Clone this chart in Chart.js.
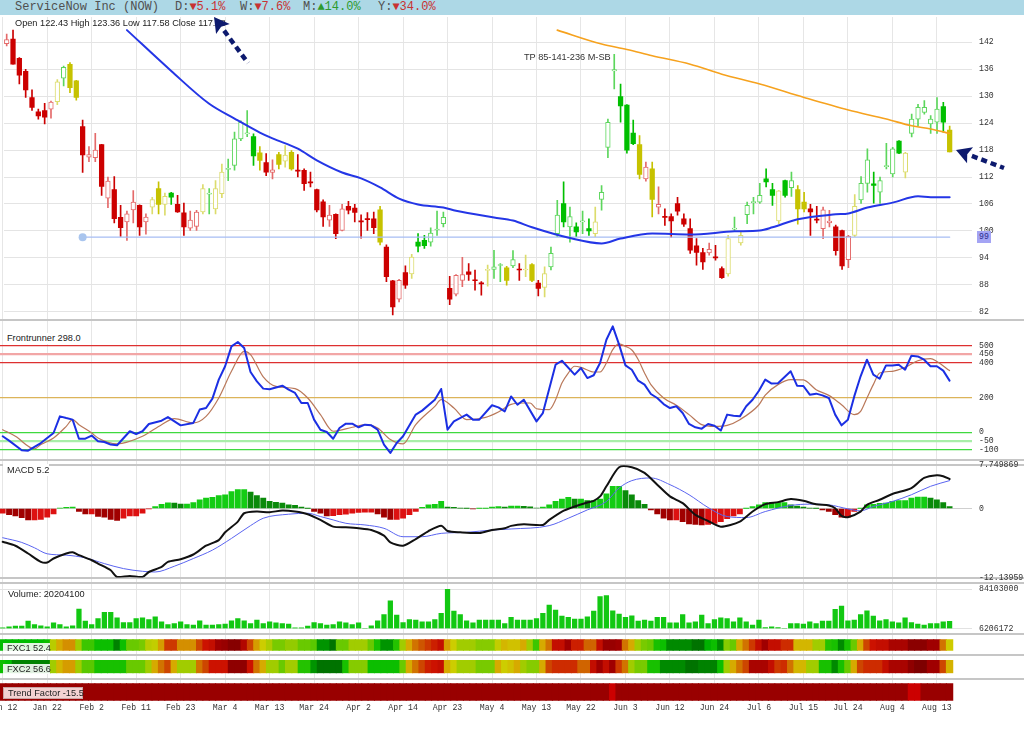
<!DOCTYPE html>
<html lang="en"><head><meta charset="utf-8"><title>ServiceNow Inc (NOW)</title>
<script src="https://cdn.jsdelivr.net/npm/chart.js@4.4.1/dist/chart.umd.min.js"></script>
<style>
html,body{margin:0;padding:0;background:#fff;}
body{position:relative;width:1024px;height:735px;overflow:hidden;font-family:"Liberation Sans",Arial,sans-serif;}
#hdr{position:absolute;left:0;top:0;width:1024px;height:15px;background:#add8e6;}
.h{position:absolute;top:0;font:12px "Liberation Mono","DejaVu Sans Mono",monospace;line-height:14px;color:#505050;white-space:nowrap;}
.dn{color:#c83232}.upc{color:#2e9a2e}
.lbl{position:absolute;font-size:9.2px;line-height:11px;color:#222;white-space:nowrap;}
</style></head><body>
<div id="hdr"></div>
<script>
// ===================== DATA =====================
const xTickLabels = ["Jan 12","Jan 22","Feb 2","Feb 11","Feb 23","Mar 4","Mar 13","Mar 24","Apr 2","Apr 14","Apr 23","May 4","May 13","May 22","Jun 3","Jun 12","Jun 24","Jul 6","Jul 15","Jul 24","Aug 4","Aug 13"];
const perfNames = ["D","W","M","Y"];
const perfValues = [-5.1,-7.6,14.0,-34.0];

const open = [141.7,142.7,138.4,135.5,129.7,126.5,126.8,127.1,128.8,134.0,
137.1,133.4,123.2,116.4,116.3,119.2,107.3,109.2,103.0,102.0,
104.7,105.7,102.0,105.3,109.4,105.9,108.4,105.9,104.0,100.6,
101.0,104.2,108.2,104.9,108.3,113.7,114.6,120.5,121.6,121.0,
117.4,115.2,113.0,117.0,115.5,117.5,113.5,113.5,110.9,109.2,
106.5,102.4,103.7,100.1,105.5,105.1,102.2,102.6,102.7,104.7,
96.4,88.9,84.8,90.7,90.4,97.5,97.9,97.5,100.2,101.6,
87.2,85.9,89.0,90.9,89.1,88.4,91.2,91.4,92.3,91.8,
92.2,91.5,91.3,92.5,88.4,87.4,92.0,99.4,106.1,100.9,
100.9,102.0,100.5,99.4,107.0,118.6,135.6,129.9,128.0,121.8,
119.2,111.6,113.8,105.3,103.2,103.2,106.1,102.7,100.5,96.7,
95.2,95.1,94.1,91.6,90.4,100.4,97.3,103.6,106.3,106.4,
111.6,109.2,102.2,111.2,109.6,109.2,106.4,104.9,102.6,100.5,
101.8,100.9,100.1,93.6,99.0,106.9,110.6,110.5,108.6,114.3,
112.7,120.0,113.1,121.7,124.9,126.4,123.8,124.2,127.7,122.43];
const high = [143.8,144.7,138.6,136.0,131.4,127.1,128.4,128.9,133.7,136.7,
137.5,133.5,124.7,118.8,121.7,119.3,112.0,112.1,105.7,104.4,
109.0,105.8,103.8,107.5,110.9,108.4,108.6,107.9,106.2,104.4,
104.6,110.3,109.4,111.2,114.9,116.0,122.0,124.5,126.8,121.6,
118.8,117.2,115.8,117.5,119.0,117.9,117.0,113.8,113.1,109.3,
106.9,105.7,103.8,105.9,106.6,105.9,103.6,104.1,104.2,105.5,
96.9,89.0,89.2,92.2,94.8,99.4,99.0,100.7,104.4,104.2,
89.9,90.3,94.1,92.7,91.3,88.7,92.4,95.7,92.7,92.1,
95.6,92.7,94.6,92.7,89.0,92.0,96.4,106.8,110.9,105.3,
101.8,104.4,102.7,105.3,110.1,124.9,139.3,132.7,128.1,124.7,
121.2,115.3,115.3,109.8,104.9,103.8,107.5,103.8,102.7,98.3,
96.1,97.3,96.8,92.0,99.0,103.1,99.8,106.4,107.5,110.6,
113.8,110.6,109.0,111.3,113.1,110.1,108.6,105.9,105.5,105.3,
104.6,101.3,100.2,99.0,108.1,112.1,118.3,113.1,112.0,119.5,
118.6,120.1,117.5,126.0,128.2,129.0,125.7,129.7,128.6,123.36];
const low = [141.2,137.1,132.7,129.7,126.8,124.9,123.8,125.1,128.1,132.3,
130.8,129.1,113.0,115.4,115.4,107.9,105.2,101.8,98.8,97.9,
101.8,99.0,99.3,103.8,103.8,103.5,105.9,104.1,99.0,100.1,
100.1,103.8,103.8,103.8,107.4,111.2,113.5,120.1,121.0,114.6,
113.5,112.3,111.6,113.8,114.2,113.5,112.0,109.0,109.8,104.2,
101.0,101.0,98.3,100.0,103.8,102.0,98.4,100.1,99.4,96.9,
88.7,81.3,84.2,87.2,89.4,95.3,96.1,96.6,99.0,100.9,
83.6,85.5,87.6,89.0,86.8,85.7,87.7,89.4,88.7,87.9,
91.8,89.0,89.8,88.7,85.5,85.3,91.3,98.7,100.9,97.5,
98.7,99.4,99.0,98.7,104.6,116.3,131.6,124.2,117.3,119.2,
111.6,111.1,103.1,103.8,101.2,98.6,103.5,101.0,95.0,92.4,
91.4,94.6,93.5,89.4,89.9,100.1,96.8,101.6,103.8,106.1,
109.8,105.7,101.6,107.5,107.7,101.5,104.2,99.0,101.8,98.3,
100.9,94.6,91.4,91.8,98.7,106.1,108.6,106.2,106.1,113.8,
112.0,117.2,111.8,120.9,123.4,126.0,121.7,121.7,122.0,117.58];
const close = [142.6,137.1,134.7,131.4,127.5,125.6,125.3,128.7,133.2,136.4,
131.9,129.7,116.9,117.0,118.0,109.9,111.1,102.7,100.7,103.8,
106.4,100.9,103.1,107.0,105.9,107.7,107.5,104.2,100.9,102.4,
104.2,109.4,108.4,109.4,113.1,113.9,120.5,124.2,121.8,116.7,
115.7,113.1,113.6,114.8,116.9,113.8,113.3,110.5,110.7,104.7,
103.1,103.5,99.4,104.9,104.6,104.1,102.0,102.5,100.7,97.5,
89.8,83.1,89.0,87.9,94.2,96.6,96.7,99.5,100.4,103.0,
84.8,90.1,90.3,90.3,88.9,88.2,91.4,92.0,92.5,89.0,
93.6,91.3,91.5,89.0,87.2,90.5,95.0,103.5,102.0,103.2,
99.8,102.2,100.0,102.0,108.6,124.2,135.9,127.8,118.0,119.4,
112.6,114.2,107.0,105.9,103.0,102.2,104.4,101.5,95.7,95.2,
93.1,95.9,94.0,89.6,98.3,100.6,99.0,105.7,106.5,107.9,
110.9,107.9,108.9,107.9,111.2,104.9,104.9,104.2,102.4,104.7,
102.2,95.6,92.2,98.8,105.5,110.6,115.8,110.1,111.2,114.5,
118.3,117.3,117.3,124.9,127.5,127.5,124.9,127.1,124.2,117.58];
// trend state of each candle: -1 bearish, 0 neutral, 1 bullish
const candleTrend = [-1,-1,-1,-1,-1,-1,-1,-1,0,1,
0,0,-1,-1,-1,-1,-1,-1,-1,-1,
-1,-1,-1,0,0,0,1,-1,-1,-1,
-1,0,1,0,0,1,1,1,1,1,
0,-1,-1,0,0,0,-1,-1,-1,-1,
-1,-1,-1,-1,-1,-1,-1,-1,-1,0,
-1,-1,-1,-1,0,1,1,1,1,1,
-1,-1,-1,-1,-1,-1,0,1,1,0,
1,-1,0,0,-1,0,1,1,1,1,
1,1,1,0,1,1,1,1,1,1,
0,-1,0,-1,-1,-1,-1,-1,-1,-1,
-1,-1,-1,-1,0,1,0,1,1,1,
1,1,0,1,1,0,0,-1,-1,-1,
-1,-1,-1,-1,0,1,1,1,1,1,
1,1,0,1,1,1,1,1,1,0];
const priceTicks = [82,88,94,100,106,112,118,124,130,136,142];

const sma50Idx = [19,26,32,36,40,42,46,49,53,56,59,62,65,69,71,77,80,83,89,94,97,102,108,115,119,121,125,131,133,136,140,144,146,149];
const sma50Val = [144.7,135.6,128.3,125.0,121.9,120.6,118.3,115.7,113.0,111.7,109.7,107.2,105.9,105.2,104.5,103.0,102.3,100.8,98.4,97.2,98.3,99.4,99.2,99.9,100.1,100.8,102.6,103.7,103.9,105.2,106.3,107.7,107.5,107.5];
const sma200Idx = [87,94,98,102,108,113,119,126,133,139,143,146,149];
const sma200Val = [144.7,141.6,140.4,139.0,137.1,134.9,132.7,129.7,126.9,124.9,123.4,122.7,121.7];
const supportLevel = 98.6;
const supportStart = 12;
const targetText = "TP 85-141-236 M-SB";

const frIdx = [0,1,3,4,6,8,9,10,11,12,13,14,15,16,17,18,20,21,22,23,25,26,28,30,31,32,33,34,35,36,37,38,39,40,41,42,44,45,46,47,48,49,50,51,52,53,54,55,56,57,58,59,60,61,62,63,65,66,68,69,70,71,73,74,75,77,78,79,80,81,82,84,85,87,88,90,91,92,93,94,95,96,97,98,99,100,101,102,103,104,105,106,107,108,109,110,111,112,113,114,115,116,117,118,119,120,121,122,124,125,126,127,128,129,130,131,132,133,134,135,136,137,138,139,140,141,142,143,144,145,146,147,148,149];
const frVal = [-23,-48,-104,-106,-62,-4,92,82,73,-37,-37,-19,-52,-56,-71,-75,6,-10,6,48,67,88,40,54,131,140,194,304,381,496,521,486,348,294,252,248,269,246,227,169,169,73,15,2,-37,25,50,50,29,44,40,15,-71,-119,-62,-23,102,125,188,250,15,63,102,73,73,156,144,121,207,159,188,63,111,390,413,333,371,313,329,400,534,611,506,386,361,298,275,221,198,163,140,150,111,48,29,21,48,38,10,102,96,92,150,188,240,304,281,283,352,269,267,217,223,213,198,102,40,73,207,323,419,333,309,386,386,390,361,442,438,419,381,381,356,298];
const frSigIdx = [0,2,5,6,8,10,11,12,14,15,18,22,25,27,30,32,34,36,38,39,41,43,46,48,50,52,55,57,59,61,63,65,68,69,71,73,76,78,80,82,83,84,86,87,88,89,90,91,93,94,95,96,97,98,99,100,101,102,104,106,108,110,112,114,116,119,120,122,124,126,128,130,132,134,135,136,137,138,140,142,144,146,147,149];
const frSigVal = [15,-23,-95,-71,-33,34,73,44,-4,-33,-67,-23,44,79,54,92,198,352,467,448,320,265,252,198,102,6,29,44,25,-42,-67,44,150,188,140,73,86,117,161,169,169,136,131,188,284,342,381,375,348,348,400,477,510,496,475,420,342,275,198,156,102,44,34,40,73,159,215,275,304,302,246,213,159,102,121,198,275,342,352,375,413,425,409,356];
const frLevels = [500,450,400,200,0,-50,-100];

const macdIdx = [0,2,4,6,7,8,10,11,12,14,15,17,18,20,22,23,25,26,28,30,32,34,35,37,38,40,42,44,46,48,50,52,54,56,58,60,61,63,65,67,69,70,72,75,77,79,80,82,85,86,88,90,92,93,94,95,97,99,101,103,105,107,109,111,113,116,118,120,122,124,126,128,130,131,132,133,135,136,138,140,143,145,147,148,149];
const macdVal = [-5.85,-6.55,-7.92,-9.39,-9.51,-8.8,-7.92,-7.68,-8.21,-9.1,-9.69,-10.87,-12.05,-11.87,-12.05,-11.17,-10.28,-9.39,-8.92,-8.09,-6.55,-5.55,-4.19,-2.3,-0.83,-0.53,-0.65,-0.35,-0.53,-1.0,-2.0,-3.19,-3.31,-3.48,-3.78,-4.78,-5.97,-6.55,-5.37,-3.96,-3.01,-3.96,-4.19,-4.31,-3.78,-3.48,-3.05,-2.77,-2.89,-2.0,-0.53,0.36,1.07,1.36,2.13,3.91,7.27,7.27,6.27,4.2,2.13,0.95,-1.12,-2.19,-3.19,-2.3,-0.53,0.77,1.13,1.66,1.36,0.77,0.54,0.06,-1.3,-1.53,-0.53,0.65,1.54,2.55,3.61,5.38,5.86,5.68,5.2];
const macdSigIdx = [0,3,5,7,10,13,16,19,22,24,27,30,33,36,39,41,45,48,50,52,54,57,60,63,66,69,73,77,80,86,89,92,95,97,99,102,105,108,111,114,117,120,124,127,130,133,135,137,140,143,146,149];
const macdSigVal = [-5.14,-5.97,-6.91,-7.97,-8.21,-8.68,-9.69,-10.57,-11.05,-11.17,-10.16,-8.8,-7.32,-5.26,-3.01,-1.71,-1.0,-0.83,-1.41,-2.0,-2.6,-2.89,-3.48,-4.96,-4.96,-4.37,-4.19,-3.78,-3.6,-3.01,-1.71,-0.24,1.24,3.61,4.91,5.38,4.2,2.43,0.18,-1.41,-1.59,-0.53,0.54,0.77,0.65,-0.06,-0.41,0.36,1.24,2.43,3.91,4.91];
const macdHist = [-0.8,-1.1,-1.3,-1.6,-2.0,-2.0,-1.9,-1.5,-0.95,0.05,
0.2,0.25,-0.5,-0.95,-0.95,-1.4,-1.5,-1.9,-2.1,-1.7,
-1.3,-1.3,-0.8,-0.05,0.35,0.75,1.0,0.95,0.8,0.8,
1.05,1.55,1.85,1.95,2.3,2.4,3.0,3.35,3.35,2.9,
2.3,1.85,1.25,1.1,0.95,0.65,0.55,0.25,0.02,-0.5,
-0.8,-1.3,-1.25,-1.1,-1.0,-0.8,-0.7,-0.65,-0.65,-0.95,
-1.5,-1.9,-1.9,-1.7,-1.1,-0.5,0.2,0.65,0.75,1.25,
0.25,0.2,0.05,0.02,-0.05,0.02,0.03,0.25,0.35,0.25,
0.45,0.45,0.4,0.3,0.1,0.25,0.65,1.25,1.65,1.95,
1.65,1.65,1.4,1.4,1.65,2.6,3.9,3.9,3.15,2.4,
1.4,0.75,-0.25,-0.95,-1.7,-2.0,-2.0,-2.3,-2.7,-2.8,
-2.9,-2.8,-2.6,-2.3,-1.8,-1.3,-0.95,0.02,0.35,0.65,
1.05,1.05,1.05,1.05,0.65,0.45,0.25,0.05,0.02,-0.25,
-0.5,-1.1,-1.5,-1.5,-0.5,0.02,0.65,0.75,0.9,0.95,
1.25,1.4,1.4,1.85,2.0,2.0,1.85,1.55,1.05,0.35];
const macdMin = -12.13959, macdMax = 7.749869;

// volume in millions of shares
const volumeM = [7.5,9.5,10.8,10.8,20.7,14.1,11.5,9.5,17.4,14.1,
9.5,11.5,44.5,20.7,14.1,26.0,37.9,37.9,27.3,18.0,
18.0,26.0,27.3,24.0,29.3,19.4,14.1,16.1,19.4,14.1,
12.8,21.4,12.8,12.8,14.1,14.8,21.4,26.0,21.4,16.1,
22.7,16.1,19.4,17.4,16.1,14.8,7.5,7.5,10.8,18.0,
16.1,12.8,14.1,19.4,17.4,14.1,17.4,6.5,11.5,21.4,
33.9,61.0,32.6,18.0,24.0,22.7,19.4,19.4,24.0,35.9,
84.103,40.6,33.9,21.4,17.4,22.7,22.7,22.7,22.7,16.1,
28.0,22.7,22.7,22.7,26.0,35.9,52.4,42.5,30.6,28.0,
24.7,24.7,29.3,40.6,69.0,71.0,41.2,34.6,28.0,31.3,
20.7,22.7,20.7,28.0,28.0,17.4,17.4,33.9,17.4,19.4,
32.6,16.1,24.0,27.3,26.0,19.4,27.3,19.4,12.8,22.7,
8.2,9.5,8.2,6.5,16.1,16.1,14.8,19.4,16.1,20.7,
20.7,43.9,50.5,21.4,22.7,33.9,41.2,30.6,21.4,24.0,
19.4,17.4,27.3,18.0,14.8,12.8,16.1,16.1,19.4,20.2041];
const volMin = 6.206172, volMax = 84.103;

const fxc1 = [20,20,20,20,20,20,20,22,48,58,
62,62,44,30,30,22,22,22,8,22,
36,36,38,48,50,60,74,74,62,62,
62,72,80,82,90,92,96,96,86,72,
60,52,46,38,38,42,42,36,36,34,
12,12,4,36,36,44,44,44,36,24,
12,12,26,44,58,66,70,74,78,82,
60,52,44,44,44,40,40,40,50,56,
54,54,58,44,30,58,66,82,82,90,
78,78,68,68,82,92,92,90,66,58,
44,38,36,24,22,10,10,10,10,4,
4,18,22,10,40,36,58,66,74,82,
90,82,82,76,76,56,56,56,44,44,
26,24,10,24,36,58,72,80,82,82,
88,88,88,95,95,95,90,90,66,52.4];
const fxc2 = [22,20,8,8,8,8,8,8,44,56,
60,60,44,34,34,24,24,24,24,24,
36,36,36,44,58,66,72,58,44,44,
44,66,72,80,80,80,94,94,94,80,
66,58,44,44,36,44,44,26,26,12,
4,4,4,4,24,40,40,40,22,22,
22,22,22,36,58,66,72,78,80,82,
58,52,44,44,44,38,38,38,58,52,
54,58,44,40,40,58,72,76,76,76,
76,68,68,82,90,82,90,74,66,44,
38,38,24,24,10,10,10,10,4,4,
8,8,8,22,44,58,66,72,88,88,
88,82,74,76,66,56,56,44,44,24,
24,10,24,36,58,72,76,76,76,82,
88,88,88,94,98,98,90,90,72,56.6];
const trendFactor = [-18,-18,-18,-18,-18,-18,-18,-18,-18,-18,
-18,-18,-18,-18,-18,-18,-18,-18,-18,-18,
-18,-18,-18,-18,-18,-18,-18,-18,-18,-18,
-18,-18,-18,-18,-18,-18,-18,-18,-18,-18,
-18,-18,-18,-18,-18,-18,-18,-18,-18,-18,
-18,-18,-18,-18,-18,-18,-18,-18,-18,-18,
-18,-18,-18,-18,-18,-18,-18,-18,-18,-18,
-18,-18,-18,-18,-18,-18,-18,-18,-18,-18,
-18,-18,-18,-18,-18,-18,-18,-18,-18,-18,
-18,-18,-18,-18,-18,-18,-8,-18,-18,-18,
-18,-18,-18,-18,-18,-18,-18,-18,-18,-18,
-18,-18,-18,-18,-18,-18,-18,-18,-18,-18,
-18,-18,-18,-18,-18,-18,-18,-18,-18,-18,
-18,-18,-18,-18,-18,-18,-18,-18,-18,-18,
-18,-18,-18,-8,-8,-18,-18,-18,-18,-15.5];

// ===================== LAYOUT / STYLE =====================
const N = close.length;
const X_MIN = -0.425, X_MAX = 152.53, AXIS_W = 52;
const monoFont = {family:"'Liberation Mono','DejaVu Sans Mono',monospace", size:8.2};

function addEl(tag, css, text){ const e=document.createElement(tag); e.style.cssText=css; if(text!==undefined) e.textContent=text; document.body.appendChild(e); return e; }
function canvasAt(top,h){ const c=document.createElement('canvas'); c.width=1024; c.height=h; c.style.cssText=`position:absolute;left:0;top:${top}px;width:1024px;height:${h}px;`; document.body.appendChild(c); return c; }
function baseOptions(pt,pb,pr,scales){
  return {responsive:false, maintainAspectRatio:false, animation:false, events:[],
    layout:{padding:{top:pt,bottom:pb,left:0,right:pr}},
    plugins:{legend:{display:false}, tooltip:{enabled:false}},
    elements:{point:{radius:0,hoverRadius:0}, line:{borderJoinStyle:'round', borderCapStyle:'round'}},
    scales};
}
const hiddenX = () => ({type:'linear', min:X_MIN, max:X_MAX, offset:false, display:false, grid:{offset:false}});
function rightAxis(min,max,ticks,fmt,grid){
  return {position:'right', min, max, offset:false,
    afterBuildTicks: s => { s.ticks = ticks.map(v => ({value:v})); },
    afterFit: s => { s.width = AXIS_W; s.paddingTop = 0; s.paddingBottom = 0; },
    ticks:{autoSkip:false, padding:7, color:'#333', font:monoFont, callback:fmt},
    grid:Object.assign({drawTicks:false}, grid),
    border:{display:false}};
}
const pts = (xs,ys) => xs.map((x,k)=>({x, y:ys[k]}));

// header
const hdr = document.getElementById('hdr');
function hspan(left, html){ const s=document.createElement('span'); s.className='h'; s.style.left=left+'px'; s.innerHTML=html; hdr.appendChild(s); }
hspan(15, 'ServiceNow Inc (NOW)');
const perfX = [175,240,303,378];
perfNames.forEach((n,k)=>{ const v=perfValues[k]; const cls=v<0?'dn':'upc'; const arr=v<0?'\u25BC':'\u25B2';
  hspan(perfX[k], `${n}:<span class="${cls}">${arr}${Math.abs(v).toFixed(1)}%</span>`); });

// background vertical grid + date axis
new Chart(canvasAt(17,700), {type:'scatter', data:{datasets:[{data:[]}]}, options: baseOptions(0,0,AXIS_W,{
  x:{type:'linear', min:X_MIN, max:X_MAX, offset:false, position:'bottom',
     afterBuildTicks: s => { s.ticks = xTickLabels.map((_,k)=>({value:k*7})); },
     afterFit: s => { s.height = 16; s.paddingLeft = 0; s.paddingRight = 0; },
     ticks:{autoSkip:false, maxRotation:0, minRotation:0, padding:2, color:'#333', font:monoFont, callback:(v,i)=>xTickLabels[i]},
     grid:{color:'#e6e6e6', lineWidth:1, drawTicks:false, offset:false}, border:{display:false}},
  y:{display:false, min:0, max:1}})});

// separators
[318.5,458.5,463.5,576.5,581.5,632.5,654,677.5].forEach(t=>addEl('div',`position:absolute;left:0;top:${t}px;width:1024px;height:2px;background:#c6c6c6;`));

// ---------- price panel ----------
const fillCol = {'-1':'#cc0000','0':'#c6c200','1':'#00bf00'};
const hollowCol = {'-1':'#e46a6a','0':'#dcdc6c','1':'#5cd65c'};
const isUp = close.map((c,i)=>c>open[i]);
const bodyBg = isUp.map((u,i)=>u?'#ffffff':fillCol[candleTrend[i]]);
const bodyBorder = isUp.map((u,i)=>u?hollowCol[candleTrend[i]]:fillCol[candleTrend[i]]);
const bodyBW = isUp.map(u=>u?1:0);
const wickCol = isUp.map((u,i)=>u?hollowCol[candleTrend[i]]:fillCol[candleTrend[i]]);
new Chart(canvasAt(14,310), {type:'bar', data:{datasets:[
  {type:'line', data:pts(sma50Idx,sma50Val), borderColor:'#2436e6', borderWidth:2, cubicInterpolationMode:'monotone', order:0},
  {type:'line', data:pts(sma200Idx,sma200Val), borderColor:'#f6a21e', borderWidth:1.6, cubicInterpolationMode:'monotone', order:0},
  {type:'line', data:[{x:supportStart,y:supportLevel},{x:N-1,y:supportLevel}], borderColor:'#a7bdf3', borderWidth:1.2, pointRadius:[4,0], pointBackgroundColor:'#a9c5ee', pointBorderWidth:0, order:0},
  {data:open.map((o,i)=>({x:i,y:[Math.min(o,close[i]),Math.max(o,close[i])]})), backgroundColor:bodyBg, borderColor:bodyBorder, borderWidth:bodyBW, borderSkipped:false, barThickness:4.6, grouped:false, minBarLength:1, order:1},
  {data:open.map((o,i)=>({x:i,y:[low[i],high[i]]})), backgroundColor:wickCol, borderWidth:0, barThickness:1, grouped:false, order:2}
]}, options: baseOptions(3,5.5,0,{x:hiddenX(), y:rightAxis(80.5,147.4,priceTicks,v=>String(v),{color:'#e4e4e4',lineWidth:1})})});

// ---------- Frontrunner ----------
const levelStyle = {'500':['#dd3030',1.2],'450':['#f2a6a6',2.2],'400':['#dd3030',1.2],'200':['#dcb45a',1.2],'0':['#3fd93f',1.2],'-50':['#a8eea8',2.2],'-100':['#3fd93f',1.2]};
new Chart(canvasAt(316,148), {type:'line', data:{datasets:[
  {data:pts(frIdx,frVal), borderColor:'#1b2fe3', borderWidth:2},
  {data:pts(frSigIdx,frSigVal), borderColor:'#b9785a', borderWidth:1.2, cubicInterpolationMode:'monotone'}
]}, options: baseOptions(4,4.5,0,{x:hiddenX(), y:rightAxis(-157,648,frLevels,v=>String(v),{
  color:c=>c.tick&&levelStyle[String(c.tick.value)]?levelStyle[String(c.tick.value)][0]:'#ccc',
  lineWidth:c=>c.tick&&levelStyle[String(c.tick.value)]?levelStyle[String(c.tick.value)][1]:1})})});

// ---------- MACD ----------
const histCol = macdHist.map((h,i)=>{ const p = i>0?macdHist[i-1]:h;
  if(h>=0) return h>=p?'#14cc14':'#0a8a0a'; return h<p?'#a00000':'#dd1111'; });
new Chart(canvasAt(455,132), {type:'bar', data:{datasets:[
  {type:'line', data:pts(macdIdx,macdVal), borderColor:'#111111', borderWidth:2, tension:0.25, order:0},
  {type:'line', data:pts(macdSigIdx,macdSigVal), borderColor:'#5a64f0', borderWidth:1, cubicInterpolationMode:'monotone', order:0},
  {data:macdHist.map((h,i)=>({x:i,y:h})), backgroundColor:histCol, barThickness:5.2, grouped:false, order:1}
]}, options: baseOptions(9.5,9.5,0,{x:hiddenX(), y:rightAxis(macdMin,macdMax,[macdMin,0,macdMax],v=>String(v),{
  color:c=>c.tick&&c.tick.value===0?'#cfcfcf':'rgba(0,0,0,0)', lineWidth:1})})});

// ---------- Volume ----------
new Chart(canvasAt(584,50), {type:'bar', data:{datasets:[
  {data:volumeM.map((v,i)=>({x:i,y:[volMin,v]})), backgroundColor:'#12c812', barThickness:4.6, grouped:false}
]}, options: baseOptions(5,5.5,0,{x:hiddenX(), y:rightAxis(volMin,volMax,[volMin,volMax],v=>String(Math.round(v*1e6)),{color:'#e2e2e2',lineWidth:1})})});

// ---------- heat strips ----------
const fxcStops = [[0,[0,100,0]],[10,[0,138,0]],[20,[0,188,0]],[30,[60,198,0]],[38,[120,202,0]],[45,[168,204,0]],[52,[205,205,0]],[58,[214,170,0]],[65,[210,122,0]],[72,[205,70,0]],[80,[204,18,0]],[90,[160,0,0]],[100,[118,0,0]]];
function fxcColor(v){
  for(let k=1;k<fxcStops.length;k++){ const [a,ca]=fxcStops[k-1],[b,cb]=fxcStops[k];
    if(v<=b){ const t=(v-a)/(b-a); return `rgb(${ca.map((c,j)=>Math.round(c+(cb[j]-c)*t)).join(',')})`; } }
  return 'rgb(118,0,0)';
}
const trendColor = v => v<=-12 ? '#990000' : '#cc0000';
function strip(top,h,pt,pb,vals,colFn){
  new Chart(canvasAt(top,h), {type:'bar', data:{datasets:[{data:vals.map((v,i)=>({x:i,y:[0,1]})), backgroundColor:vals.map(colFn), borderWidth:0, barThickness:6.7, grouped:false}]},
    options: baseOptions(pt,pb,AXIS_W,{x:hiddenX(), y:{display:false,min:0,max:1}})});
}
strip(636,18,3.3,3.3,fxc1,fxcColor);
strip(657,19,3,2.7,fxc2,fxcColor);
strip(680,24,3.3,3.3,trendFactor,trendColor);

// ---------- texts ----------
const L = N-1;
addEl('div','position:absolute;left:15px;top:17.5px;font-size:9.2px;line-height:11px;color:#222;white-space:nowrap;',
  `Open ${open[L].toFixed(2)} High ${high[L].toFixed(2)} Low ${low[L].toFixed(2)} Close ${close[L].toFixed(2)}`);
addEl('div','position:absolute;left:524px;top:51.5px;font-size:9.2px;line-height:11px;color:#333;white-space:nowrap;', targetText);
addEl('div','position:absolute;left:977px;top:231px;width:14px;height:12px;background:#a4a4f4;color:#2b2b8c;font:8.2px "Liberation Mono",monospace;line-height:12px;text-align:center;', String(Math.round(supportLevel)));
addEl('div','position:absolute;left:7px;top:332.5px;font-size:9.2px;line-height:11px;color:#222;white-space:nowrap;background:#fff;', `Frontrunner ${frVal[frVal.length-1].toFixed(1)}`);
addEl('div','position:absolute;left:3px;top:464px;width:46px;height:12px;background:#fff;');
addEl('div','position:absolute;left:7px;top:464.5px;font-size:9.2px;line-height:11px;color:#222;white-space:nowrap;', `MACD ${macdVal[macdVal.length-1].toFixed(1)}`);
addEl('div','position:absolute;left:8px;top:588.5px;font-size:9.2px;line-height:11px;color:#222;white-space:nowrap;', `Volume: ${Math.round(volumeM[L]*1e6)}`);
addEl('div','position:absolute;left:3px;top:643px;width:43px;height:10px;padding-left:4px;background:rgba(255,255,255,0.88);font-size:9.2px;line-height:10px;color:#222;white-space:nowrap;', `FXC1 ${fxc1[L].toFixed(1)}`);
addEl('div','position:absolute;left:3px;top:663.5px;width:43px;height:10.5px;padding-left:4px;background:rgba(255,255,255,0.88);font-size:9.2px;line-height:10.5px;color:#222;white-space:nowrap;', `FXC2 ${fxc2[L].toFixed(1)}`);
addEl('div','position:absolute;left:3px;top:686.5px;width:74px;height:10px;padding-left:4px;background:#f3d2d2;border:1px solid #c9a6a6;font-size:9.2px;line-height:10px;color:#222;white-space:nowrap;', `Trend Factor ${trendFactor[L].toFixed(1)}`);

// ---------- annotation arrows ----------
const ac = canvasAt(0,735); ac.style.pointerEvents='none';
const g = ac.getContext('2d');
function arrow(tx,ty,fx,fy){
  const dx=fx-tx, dy=fy-ty, len=Math.hypot(dx,dy), ux=dx/len, uy=dy/len, hl=15, hw=8.5;
  const bx=tx+ux*hl, by=ty+uy*hl;
  g.fillStyle='#0d1a6e'; g.beginPath(); g.moveTo(tx,ty); g.lineTo(bx-uy*hw,by+ux*hw); g.lineTo(bx-ux*3,by-uy*3); g.lineTo(bx+uy*hw,by-ux*hw); g.closePath(); g.fill();
  g.strokeStyle='#0d1a6e'; g.lineWidth=4.5; g.setLineDash([6,4]); g.beginPath(); g.moveTo(bx+ux*2,by+uy*2); g.lineTo(fx,fy); g.stroke(); g.setLineDash([]);
}
arrow(214,17,248,63);
arrow(956,150,1004,168);
</script>
</body></html>
